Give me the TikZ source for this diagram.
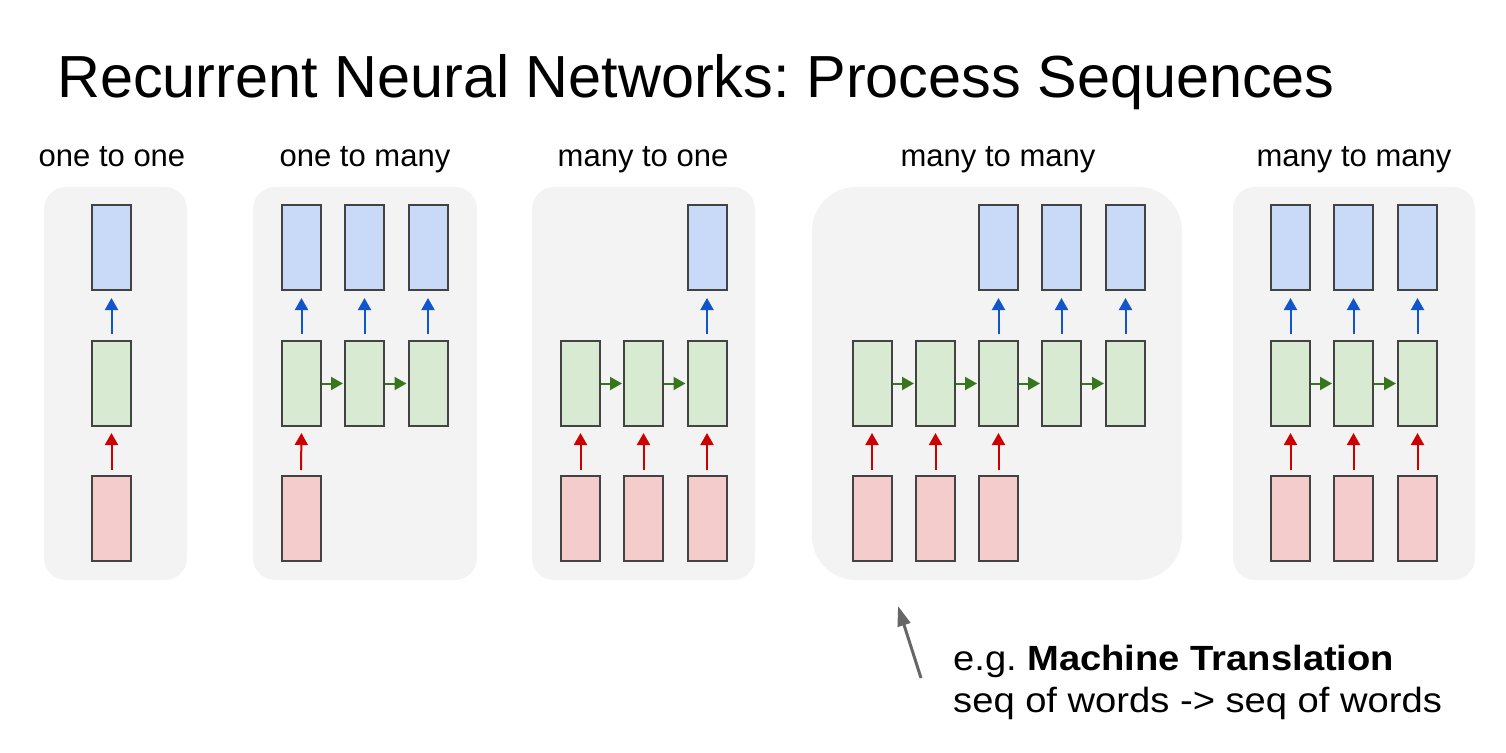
\documentclass[tikz,border=0pt]{standalone}
\usepackage{fontspec}
\usepackage{graphicx}
\setmainfont{Liberation Sans}
\usetikzlibrary{arrows.meta}
\frenchspacing

\definecolor{panelbg}{HTML}{F3F3F3}
\definecolor{boxline}{HTML}{434343}
\definecolor{inbox}{HTML}{F4CCCC}
\definecolor{hidbox}{HTML}{D9EAD3}
\definecolor{outbox}{HTML}{C9DAF8}
\definecolor{inarrow}{HTML}{CC0000}
\definecolor{hidarrow}{HTML}{38761D}
\definecolor{outarrow}{HTML}{1155CC}
\definecolor{notearrow}{HTML}{666666}

\tikzset{
  cell/.style={rectangle, draw=boxline, line width=2pt, inner sep=0pt,
               minimum width=39pt, minimum height=85pt},
  xcell/.style={cell, fill=inbox},
  hcell/.style={cell, fill=hidbox},
  ycell/.style={cell, fill=outbox},
  panel/.style={fill=panelbg, rounded corners=22pt},
  tip/.style={-{Triangle[length=12pt,width=13pt]}, line width=2pt},
  inflow/.style={tip, draw=inarrow, fill=inarrow, shorten <=5pt, shorten >=6pt},
  outflow/.style={tip, draw=outarrow, fill=outarrow, shorten <=6pt, shorten >=7pt},
  recur/.style={tip, draw=hidarrow, fill=hidarrow, shorten <=0pt, shorten >=1pt},
  kind/.style={anchor=base, font=\fontsize{31}{31}\selectfont, inner sep=0pt},
  remark/.style={anchor=base west, inner sep=0pt, font=\fontsize{35}{35}\selectfont},
}

\begin{document}
\begin{tikzpicture}[x=1pt, y=-1pt]
  \useasboundingbox[fill=white] (0,0) rectangle (1506,752);

  % title
  \node[anchor=base west, inner sep=0pt, font=\fontsize{59.4}{60}\selectfont]
    (title) at (57,97) {Recurrent Neural Networks: Process Sequences};

  % grey panels
  \fill[panel] (44,187) rectangle (187,580);
  \fill[panel] (253,187) rectangle (477,580);
  \fill[panel] (532,187) rectangle (755,580);
  \fill[panel, rounded corners=44pt] (812,187) rectangle (1182,580);
  \fill[panel] (1233,187) rectangle (1475,580);

  % panel headings
  \node[kind] (k1) at (112,166) {one to one};
  \node[kind] (k2) at (365,166) {one to many};
  \node[kind] (k3) at (643,166) {many to one};
  \node[kind] (k4) at (998,166) {many to many};
  \node[kind] (k5) at (1354,166) {many to many};

  % one to one
  \node[ycell] (a-y1) at (111.5,247.5) {};
  \node[hcell] (a-h1) at (111.5,383.5) {};
  \node[xcell] (a-x1) at (111.5,518.5) {};
  \draw[inflow] (a-x1.north) -- (a-h1.south);
  \draw[outflow] (a-h1.north) -- (a-y1.south);

  % one to many
  \foreach \i/\x in {1/301.5, 2/364.5, 3/428} {
    \node[ycell] (b-y\i) at (\x,247.5) {};
    \node[hcell] (b-h\i) at (\x,383.5) {};
    \draw[outflow] (b-h\i.north) -- (b-y\i.south);
  }
  \node[xcell] (b-x1) at (301,518.5) {};
  \draw[inflow] (b-x1.north) -- (b-h1.south);
  \draw[recur] (b-h1.east) -- (b-h2.west);
  \draw[recur] (b-h2.east) -- (b-h3.west);

  % many to one
  \foreach \i/\x in {1/580.5, 2/643.5, 3/707} {
    \node[hcell] (c-h\i) at (\x,383.5) {};
    \node[xcell] (c-x\i) at (\x,518.5) {};
    \draw[inflow] (c-x\i.north) -- (c-h\i.south);
  }
  \node[ycell] (c-y3) at (707,247.5) {};
  \draw[outflow] (c-h3.north) -- (c-y3.south);
  \draw[recur] (c-h1.east) -- (c-h2.west);
  \draw[recur] (c-h2.east) -- (c-h3.west);

  % many to many (encoder-decoder)
  \foreach \i/\x in {1/872, 2/935.5, 3/998.5, 4/1061.5, 5/1125.5} {
    \node[hcell] (d-h\i) at (\x,383.5) {};
  }
  \foreach \i in {1,2,3} {
    \node[xcell] (d-x\i) at (d-h\i |- 0,518.5) {};
    \draw[inflow] (d-x\i.north) -- (d-h\i.south);
  }
  \foreach \i in {3,4,5} {
    \node[ycell] (d-y\i) at (d-h\i |- 0,247.5) {};
    \draw[outflow] (d-h\i.north) -- (d-y\i.south);
  }
  \foreach \i/\j in {1/2, 2/3, 3/4, 4/5} {
    \draw[recur] (d-h\i.east) -- (d-h\j.west);
  }

  % many to many (synced)
  \foreach \i/\x in {1/1290.5, 2/1353.5, 3/1417.5} {
    \node[ycell] (e-y\i) at (\x,247.5) {};
    \node[hcell] (e-h\i) at (\x,383.5) {};
    \node[xcell] (e-x\i) at (\x,518.5) {};
    \draw[inflow] (e-x\i.north) -- (e-h\i.south);
    \draw[outflow] (e-h\i.north) -- (e-y\i.south);
  }
  \draw[recur] (e-h1.east) -- (e-h2.west);
  \draw[recur] (e-h2.east) -- (e-h3.west);

  % note on the encoder-decoder case
  \node[remark] (note1) at (953,670)
    {\scalebox{1.09}[1]{e.g. \textbf{Machine Translation}}};
  \node[remark] (note2) at (953,712)
    {\scalebox{1.09}[1]{seq of words -> seq of words}};
  \coordinate (tail) at (921,678);
  \coordinate (head) at (898,606);
  \draw[-{Triangle[length=20pt,width=13pt]}, line width=3pt, draw=notearrow,
        fill=notearrow] (tail) -- (head);
\end{tikzpicture}
\end{document}
